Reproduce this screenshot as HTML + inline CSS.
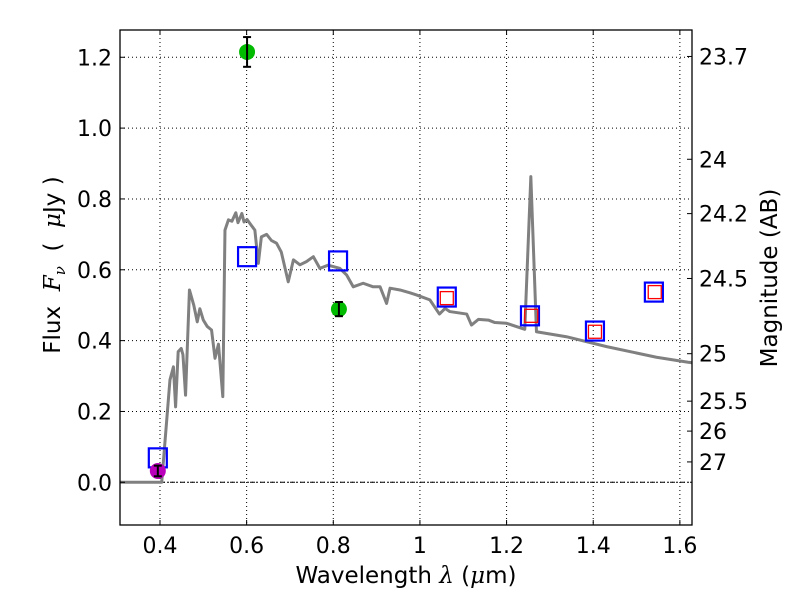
<!DOCTYPE html>
<html><head><meta charset="utf-8"><style>
html,body{margin:0;padding:0;background:#fff;}
svg{display:block;font-family:"DejaVu Sans","Liberation Sans",sans-serif;}
</style></head><body>
<svg id="chart" width="800" height="600" viewBox="0 0 800 600">
<g id="grid"></g>
<g id="series"></g>
<g id="axes"></g>
</svg>
<script>
const xTicks=[0.4,0.6,0.8,1.0,1.2,1.4,1.6];
const xTickLabels=["0.4","0.6","0.8","1","1.2","1.4","1.6"];
const yTicks=[0,0.2,0.4,0.6,0.8,1.0,1.2];
const yTickLabels=["0.0","0.2","0.4","0.6","0.8","1.0","1.2"];
const magTicks=[23.7,24,24.2,24.5,25,25.5,26,27];
const magTickLabels=["23.7","24","24.2","24.5","25","25.5","26","27"];
const specWave=[0.3,0.404,0.423,0.431,0.436,0.442,0.449,0.453,0.459,0.468,0.478,0.486,0.492,0.5,0.509,0.519,0.527,0.535,0.545,0.55,0.558,0.566,0.575,0.58,0.589,0.594,0.601,0.611,0.619,0.627,0.634,0.646,0.657,0.669,0.68,0.696,0.708,0.723,0.738,0.754,0.769,0.788,0.815,0.831,0.846,0.869,0.892,0.908,0.923,0.931,0.954,0.977,0.992,1.023,1.045,1.058,1.069,1.108,1.119,1.135,1.158,1.173,1.2,1.242,1.256,1.269,1.338,1.431,1.546,1.619,1.64];
const specFlux=[0,0,0.289,0.326,0.213,0.369,0.378,0.36,0.246,0.543,0.5,0.453,0.49,0.458,0.44,0.43,0.35,0.39,0.242,0.712,0.741,0.737,0.761,0.733,0.759,0.735,0.742,0.725,0.712,0.618,0.693,0.7,0.683,0.675,0.65,0.566,0.628,0.614,0.623,0.637,0.604,0.613,0.604,0.585,0.552,0.562,0.552,0.552,0.505,0.548,0.543,0.535,0.529,0.515,0.475,0.491,0.482,0.475,0.444,0.46,0.458,0.451,0.449,0.432,0.863,0.425,0.411,0.383,0.353,0.339,0.336];
const blueWave=[0.395,0.601,0.811,1.062,1.254,1.404,1.54];
const blueFlux=[0.069,0.637,0.625,0.523,0.47,0.427,0.537];
const redWave=[1.062,1.257,1.404,1.542];
const redFlux=[0.52,0.47,0.425,0.537];
const greenWave=[0.601,0.813];
const greenFlux=[1.215,0.489];
const greenErr=[0.042,0.02];
const magentaWave=[0.395];
const magentaFlux=[0.032];
const magentaErr=[0.015];

const L=120,R=692,T=30,B=525;
const xMin=0.3077,xMax=1.628;
const X=v=>L+(v-xMin)/(xMax-xMin)*(R-L);
const Y=v=>482.3-v*354.2;
const NS="http://www.w3.org/2000/svg";
function mk(tag,attrs,parent){const e=document.createElementNS(NS,tag);for(const k in attrs)e.setAttribute(k,attrs[k]);parent.appendChild(e);return e;}
const grid=document.getElementById('grid'),series=document.getElementById('series'),axes=document.getElementById('axes');

xTicks.forEach((t,i)=>{const x=X(t);
 const g=mk('line',{x1:x,x2:x,y1:T,y2:B,stroke:'#000','stroke-width':1,'stroke-dasharray':'1,3'},grid);
 
 mk('line',{x1:x,x2:x,y1:B,y2:B-5,stroke:'#000'},axes);
 mk('line',{x1:x,x2:x,y1:T,y2:T+5,stroke:'#000'},axes);
 const tx=mk('text',{x:x,y:B+28,'font-size':22,'text-anchor':'middle'},axes);tx.textContent=xTickLabels[i];
 
});
yTicks.forEach((t,i)=>{const y=Y(t);
 const g=mk('line',{x1:L,x2:R,y1:y,y2:y,stroke:'#000','stroke-width':1,'stroke-dasharray':'1,3'},grid);
 
 mk('line',{x1:L,x2:L+5,y1:y,y2:y,stroke:'#000'},axes);
 const tx=mk('text',{x:L-8,y:y+8,'font-size':22,'text-anchor':'end'},axes);tx.textContent=yTickLabels[i];
 
});
magTicks.forEach((m,i)=>{const y=Y(Math.pow(10,(23.9-m)/2.5));
 mk('line',{x1:R,x2:R-5,y1:y,y2:y,stroke:'#000'},axes);
 const tx=mk('text',{x:R+7,y:y+8,'font-size':22},axes);tx.textContent=magTickLabels[i];
 
});
const zl=mk('line',{x1:L,x2:R,y1:Y(0),y2:Y(0),stroke:'#000','stroke-width':1,'stroke-dasharray':'5,2,1,2'},grid);


const cp=mk('clipPath',{id:'clip'},series);mk('rect',{x:L,y:T,width:R-L,height:B-T},cp);
const sp=mk('polyline',{points:specWave.map((w,i)=>X(w)+','+Y(specFlux[i])).join(' '),fill:'none',stroke:'#808080','stroke-width':3,'stroke-linejoin':'round','clip-path':'url(#clip)'},series);


blueWave.forEach((w,i)=>{const r=mk('rect',{x:X(w)-9,y:Y(blueFlux[i])-9.5,width:18,height:19,fill:'none',stroke:'#0000ff','stroke-width':2.2},series);
 });
redWave.forEach((w,i)=>{const r=mk('rect',{x:X(w)-6.5,y:Y(redFlux[i])-6.5,width:13,height:13,fill:'none',stroke:'#ff0000','stroke-width':1.3},series);
 });
function pt(w,f,e,col,name){const x=X(w);
 const c=mk('circle',{cx:x,cy:Y(f),r:8,fill:col},series);
 
 const eb=mk('g',{stroke:'#000','stroke-width':2},series);
 
 mk('line',{x1:x,x2:x,y1:Y(f+e),y2:Y(f-e)},eb);
 mk('line',{x1:x-4,x2:x+4,y1:Y(f+e),y2:Y(f+e)},eb);
 mk('line',{x1:x-4,x2:x+4,y1:Y(f-e),y2:Y(f-e)},eb);}
greenWave.forEach((w,i)=>pt(w,greenFlux[i],greenErr[i],'#00bb00','observed-point'));
magentaWave.forEach((w,i)=>pt(w,magentaFlux[i],magentaErr[i],'#bb00bb','upper-limit-point'));

const fr=mk('rect',{x:L,y:T,width:R-L,height:B-T,fill:'none',stroke:'#000','stroke-width':1.3},axes);

</script>
<svg style="position:absolute;left:0;top:0" width="800" height="600">
<text x="406" y="583" font-size="23" text-anchor="middle" font-family="DejaVu Sans, sans-serif">Wavelength  <tspan font-style="italic" font-family="DejaVu Serif, serif">λ</tspan> (<tspan font-style="italic" font-family="DejaVu Serif, serif">μ</tspan>m)</text>
<text transform="translate(60,265) rotate(-90)" font-size="23" text-anchor="middle" font-family="DejaVu Sans, sans-serif" xml:space="preserve">Flux  <tspan font-style="italic" font-family="DejaVu Serif, serif">F<tspan font-size="15" dy="5">ν</tspan></tspan><tspan dy="-5">  (  </tspan><tspan font-style="italic" font-family="DejaVu Serif, serif">μ</tspan>Jy )</text>
<text transform="translate(777,278) rotate(-90)" font-size="23" text-anchor="middle" font-family="DejaVu Sans, sans-serif">Magnitude (AB)</text>
</svg>
</body></html>
